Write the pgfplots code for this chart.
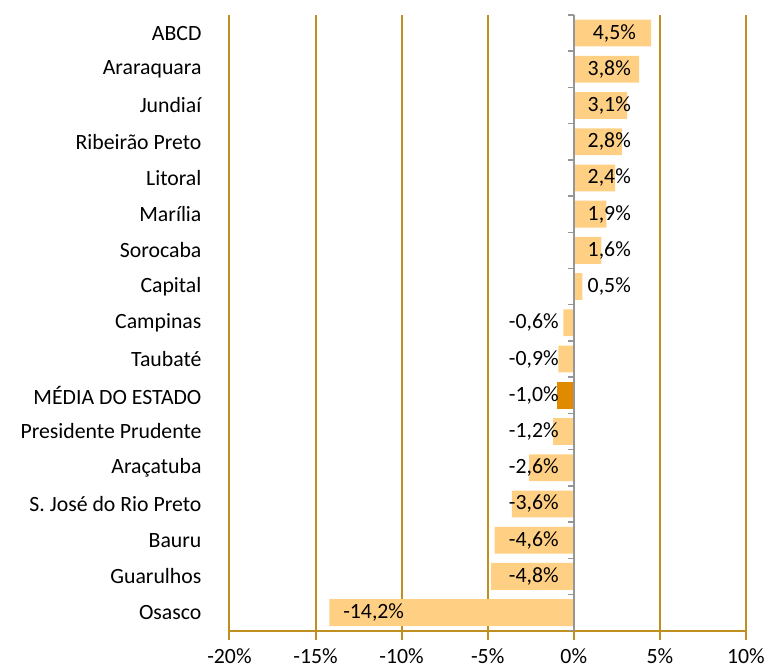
\documentclass[border=0pt]{standalone}
\usepackage{pgfplots}
\pgfplotsset{compat=1.18}
\usepackage{fontspec}
\setmainfont{Carlito}
\definecolor{gridgold}{RGB}{191,143,32}
\definecolor{barlight}{RGB}{255,208,132}
\definecolor{bardark}{RGB}{224,138,0}
\definecolor{axgray}{RGB}{150,150,150}
\begin{document}
\fontsize{22}{26}\selectfont
\begin{tikzpicture}
\begin{axis}[
  scale only axis,
  width=520bp, height=620bp,
  xmin=-20, xmax=10,
  ymin=-0.5, ymax=16.5,
  y dir=reverse,
  axis x line=bottom,
  axis y line=none,
  x axis line style={draw=gridgold, line width=2pt, -},
  xtick={-20,-15,-10,-5,0,5,10},
  xticklabels={-20\%,-15\%,-10\%,-5\%,0\%,5\%,10\%},
  major tick length=0pt,
  xticklabel style={font=\fontsize{22}{26}\selectfont, yshift=-11bp},
  ytick=\empty,
  xbar, bar width=27bp, bar shift=0pt,
  clip=false,
]
% grid lines with tick marks below the axis
\pgfplotsinvokeforeach{-20,-15,-10,-5,5,10}{\draw[gridgold, line width=2pt] (axis cs:#1,-0.5) -- ([yshift=-9bp]axis cs:#1,16.5);}
\draw[gridgold, line width=2pt] (axis cs:0,16.5) -- ([yshift=-9bp]axis cs:0,16.5);
\addplot[fill=barlight, draw=none] coordinates {
(4.5,0) (3.8,1) (3.1,2) (2.8,3) (2.4,4) (1.9,5) (1.6,6) (0.5,7)
(-0.6,8) (-0.9,9) (-1.2,11) (-2.6,12) (-3.6,13) (-4.6,14) (-4.8,15) (-14.2,16)};
\addplot[fill=bardark, draw=none] coordinates {(-1.0,10)};
% vertical axis at zero
\draw[axgray, line width=1.5pt] (axis cs:0,-0.5) -- (axis cs:0,16.5);
\pgfplotsinvokeforeach{-0.5,0.5,...,16.5}{\draw[axgray, line width=1.5pt] (axis cs:0,#1) -- ([xshift=-6bp]axis cs:0,#1);}
% value labels
\node[anchor=west, inner sep=0pt] at (axis cs:1.1,0) {4,5\%};
\node[anchor=west, inner sep=0pt] at (axis cs:0.8,1) {3,8\%};
\node[anchor=west, inner sep=0pt] at (axis cs:0.8,2) {3,1\%};
\node[anchor=west, inner sep=0pt] at (axis cs:0.8,3) {2,8\%};
\node[anchor=west, inner sep=0pt] at (axis cs:0.8,4) {2,4\%};
\node[anchor=west, inner sep=0pt] at (axis cs:0.8,5) {1,9\%};
\node[anchor=west, inner sep=0pt] at (axis cs:0.8,6) {1,6\%};
\node[anchor=west, inner sep=0pt] at (axis cs:0.8,7) {0,5\%};
\node[anchor=east, inner sep=0pt] at (axis cs:-0.87,8) {-0,6\%};
\node[anchor=east, inner sep=0pt] at (axis cs:-0.87,9) {-0,9\%};
\node[anchor=east, inner sep=0pt] at (axis cs:-0.87,10) {-1,0\%};
\node[anchor=east, inner sep=0pt] at (axis cs:-0.87,11) {-1,2\%};
\node[anchor=east, inner sep=0pt] at (axis cs:-0.87,12) {-2,6\%};
\node[anchor=east, inner sep=0pt] at (axis cs:-0.87,13) {-3,6\%};
\node[anchor=east, inner sep=0pt] at (axis cs:-0.87,14) {-4,6\%};
\node[anchor=east, inner sep=0pt] at (axis cs:-0.87,15) {-4,8\%};
\node[anchor=west, inner sep=0pt] at (axis cs:-13.4,16) {-14,2\%};
% category labels at left
\node[anchor=east, inner sep=0pt] at ([xshift=-28bp]axis cs:-20,0) {ABCD};
\node[anchor=east, inner sep=0pt] at ([xshift=-28bp]axis cs:-20,1) {Araraquara};
\node[anchor=east, inner sep=0pt] at ([xshift=-28bp]axis cs:-20,2) {Jundiaí};
\node[anchor=east, inner sep=0pt] at ([xshift=-28bp]axis cs:-20,3) {Ribeirão Preto};
\node[anchor=east, inner sep=0pt] at ([xshift=-28bp]axis cs:-20,4) {Litoral};
\node[anchor=east, inner sep=0pt] at ([xshift=-28bp]axis cs:-20,5) {Marília};
\node[anchor=east, inner sep=0pt] at ([xshift=-28bp]axis cs:-20,6) {Sorocaba};
\node[anchor=east, inner sep=0pt] at ([xshift=-28bp]axis cs:-20,7) {Capital};
\node[anchor=east, inner sep=0pt] at ([xshift=-28bp]axis cs:-20,8) {Campinas};
\node[anchor=east, inner sep=0pt] at ([xshift=-28bp]axis cs:-20,9) {Taubaté};
\node[anchor=east, inner sep=0pt] at ([xshift=-28bp]axis cs:-20,10) {MÉDIA DO ESTADO};
\node[anchor=east, inner sep=0pt] at ([xshift=-28bp]axis cs:-20,11) {Presidente Prudente};
\node[anchor=east, inner sep=0pt] at ([xshift=-28bp]axis cs:-20,12) {Araçatuba};
\node[anchor=east, inner sep=0pt] at ([xshift=-28bp]axis cs:-20,13) {S. José do Rio Preto};
\node[anchor=east, inner sep=0pt] at ([xshift=-28bp]axis cs:-20,14) {Bauru};
\node[anchor=east, inner sep=0pt] at ([xshift=-28bp]axis cs:-20,15) {Guarulhos};
\node[anchor=east, inner sep=0pt] at ([xshift=-28bp]axis cs:-20,16) {Osasco};
\end{axis}
\path (current axis.south west) ++(-231bp,-37bp) coordinate (bbA);
\path (current axis.north east) ++(21bp,15bp) coordinate (bbB);
\path (bbA) rectangle (bbB);
\end{tikzpicture}
\end{document}
